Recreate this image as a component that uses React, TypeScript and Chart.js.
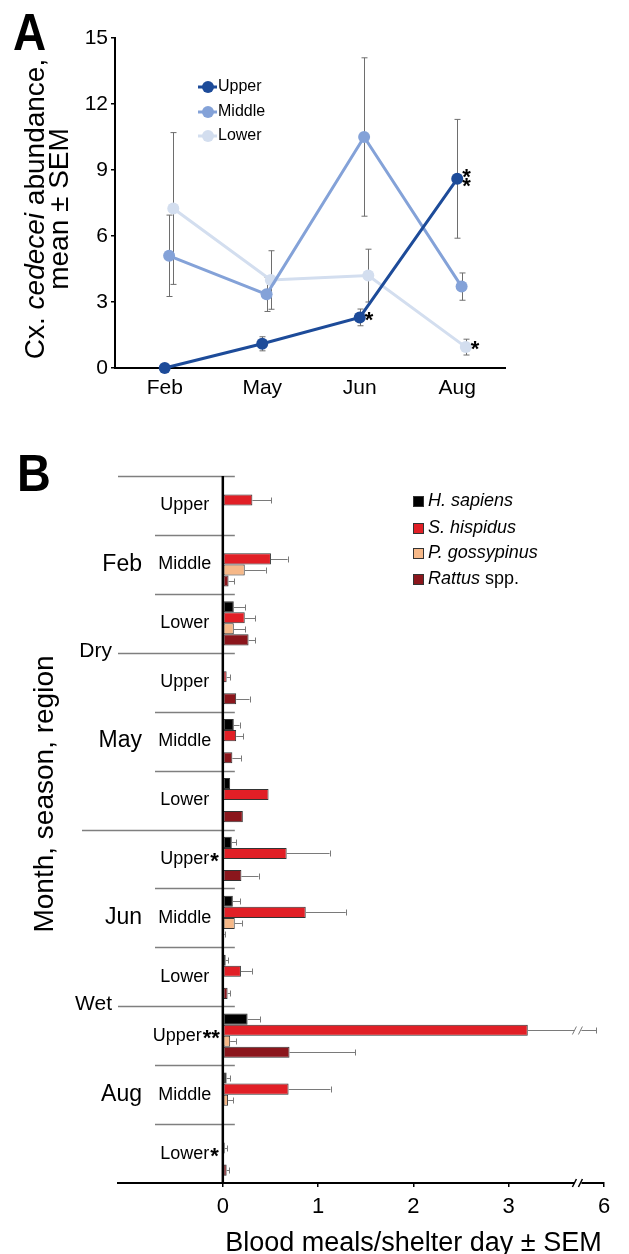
import React, { useEffect, useRef } from "react";
import { Chart, registerables } from "chart.js";

Chart.register(...registerables);

const FONT = '"Liberation Sans", Arial, Helvetica, sans-serif';

// ---------- Panel A data ----------
const monthsA = ["Feb", "May", "Jun", "Aug"];
const regionsA = ["Upper", "Middle", "Lower"];
const upperMean = [0, 1.1, 2.3, 8.6];
const upperSem = [0, 0.32, 0.38, 2.7];
const middleMean = [5.1, 3.35, 10.5, 3.7];
const middleSem = [1.85, 0.78, 3.6, 0.62];
const lowerMean = [7.25, 4.0, 4.2, 0.95];
const lowerSem = [3.45, 1.33, 1.2, 0.36];
const upperStars = ["", "", "*", "**"];
const middleStars = ["", "", "", ""];
const lowerStars = ["", "", "", "*"];
const yTicksA = [0, 3, 6, 9, 12, 15];

// ---------- Panel B data ----------
const monthsB = ["Feb", "May", "Jun", "Aug"];
const regionsB = ["Upper", "Middle", "Lower"];
const seasonsB = ["Dry", "Wet"];
const groupStarsB = ["", "", "", "", "", "", "*", "", "", "**", "", "*"];
const hostNames = ["H. sapiens", "S. hispidus", "P. gossypinus", "Rattus spp."];
const hSapiens = [0, 0, 0.115, 0, 0.115, 0.077, 0.094, 0.105, 0.03, 0.26, 0.04, 0];
const hSapiensSem = [0, 0, 0.12, 0, 0.06, 0, 0.045, 0.08, 0.025, 0.13, 0.035, 0];
const sHispidus = [0.31, 0.505, 0.23, 0.04, 0.14, 0.48, 0.67, 0.87, 0.19, 3.2, 0.69, 0.02];
const sHispidusSem = [0.2, 0.175, 0.11, 0.035, 0.075, 0, 0.45, 0.42, 0.115, 2.72, 0.44, 0.025];
const pGossypinus = [0, 0.23, 0.115, 0, 0, 0, 0, 0.125, 0, 0.077, 0.055, 0];
const pGossypinusSem = [0, 0.22, 0.12, 0, 0, 0, 0, 0.075, 0, 0.06, 0.055, 0];
const rattus = [0, 0.06, 0.27, 0.14, 0.1, 0.21, 0.195, 0.015, 0.05, 0.7, 0, 0.04];
const rattusSem = [0, 0.06, 0.07, 0.14, 0.09, 0, 0.18, 0.012, 0.025, 0.69, 0, 0.03];
const xTicksB = [0, 1, 2, 3, 6];
const axisBreak = [3.7, 5.7];

// ---------- helpers ----------
const brk = (v: number) =>
  v <= axisBreak[0] ? v : v >= axisBreak[1] ? v - (axisBreak[1] - axisBreak[0]) : axisBreak[0];

type Seg = { t: string; i?: boolean };
function drawRich(ctx: CanvasRenderingContext2D, segs: Seg[], size: number, cx: number, y: number) {
  const fonts = segs.map((s) => `${s.i ? "italic " : ""}${size}px ${FONT}`);
  const widths = segs.map((s, k) => {
    ctx.font = fonts[k];
    return ctx.measureText(s.t).width;
  });
  const total = widths.reduce((a, b) => a + b, 0);
  let x = cx - total / 2;
  ctx.textAlign = "left";
  ctx.textBaseline = "alphabetic";
  segs.forEach((s, k) => {
    ctx.font = fonts[k];
    ctx.fillText(s.t, x, y);
    x += widths[k];
  });
}
function drawStar(ctx: CanvasRenderingContext2D, text: string, x: number, yc: number, size: number) {
  ctx.font = `bold ${size}px ${FONT}`;
  ctx.textAlign = "left";
  ctx.textBaseline = "alphabetic";
  ctx.fillStyle = "#000";
  ctx.fillText(text, x, yc + 0.42 * size);
}
function drawLetter(ctx: CanvasRenderingContext2D, t: string, x: number, y: number, size: number) {
  ctx.save();
  ctx.translate(x, y);
  ctx.scale(0.9, 1);
  ctx.font = `bold ${size}px ${FONT}`;
  ctx.fillStyle = "#000";
  ctx.textAlign = "left";
  ctx.textBaseline = "alphabetic";
  ctx.fillText(t, 0, 0);
  ctx.restore();
}

// ---------- Panel A config ----------
const meansA = [upperMean, middleMean, lowerMean];
const semsA = [upperSem, middleSem, lowerSem];
const starsA = [upperStars, middleStars, lowerStars];
const colorsA = ["#1d4b99", "#84a2d8", "#d3deef"];
const dodgeA = [0, 0.045, 0.088];

const pluginA = {
  id: "panelA",
  beforeDatasetsDraw(chart: any) {
    const { ctx, scales } = chart;
    const { x, y } = scales;
    ctx.save();
    ctx.strokeStyle = "#6e6e6e";
    ctx.lineWidth = 1;
    meansA.forEach((means, s) =>
      means.forEach((m, i) => {
        const e = semsA[s][i];
        if (!e) return;
        const px = Math.round(x.getPixelForValue(i + dodgeA[s])) + 0.5;
        const y1 = y.getPixelForValue(m - e);
        const y2 = y.getPixelForValue(m + e);
        ctx.beginPath();
        ctx.moveTo(px, y1);
        ctx.lineTo(px, y2);
        ctx.moveTo(px - 3, y1);
        ctx.lineTo(px + 3, y1);
        ctx.moveTo(px - 3, y2);
        ctx.lineTo(px + 3, y2);
        ctx.stroke();
      })
    );
    ctx.restore();
  },
  afterDraw(chart: any) {
    const { ctx, scales, chartArea } = chart;
    const { x, y } = scales;
    ctx.save();
    // significance stars
    meansA.forEach((means, s) =>
      means.forEach((m, i) => {
        const st = starsA[s][i];
        if (!st) return;
        const px = x.getPixelForValue(i + dodgeA[s]) + 5;
        const py = y.getPixelForValue(m);
        if (st.length === 1) drawStar(ctx, "*", px, py, 22);
        else st.split("").forEach((c, k) => drawStar(ctx, c, px, py + (k - (st.length - 1) / 2) * 9, 22));
      })
    );
    // legend
    const legX = 198;
    const legY = [87, 112, 136];
    regionsA.forEach((r, s) => {
      ctx.strokeStyle = colorsA[s];
      ctx.lineWidth = 3;
      ctx.beginPath();
      ctx.moveTo(legX, legY[s]);
      ctx.lineTo(legX + 19, legY[s]);
      ctx.stroke();
      ctx.fillStyle = colorsA[s];
      ctx.beginPath();
      ctx.arc(legX + 10, legY[s], 6, 0, Math.PI * 2);
      ctx.fill();
      ctx.fillStyle = "#000";
      ctx.font = `16px ${FONT}`;
      ctx.textAlign = "left";
      ctx.textBaseline = "middle";
      ctx.fillText(r, legX + 20, legY[s]);
    });
    // y title
    ctx.fillStyle = "#000";
    const cy = (chartArea.top + chartArea.bottom) / 2 + 6;
    ctx.save();
    ctx.translate(44, cy);
    ctx.rotate(-Math.PI / 2);
    drawRich(ctx, [{ t: "Cx. " }, { t: "cedecei", i: true }, { t: " abundance," }], 28, 0, 0);
    ctx.restore();
    ctx.save();
    ctx.translate(68, cy);
    ctx.rotate(-Math.PI / 2);
    drawRich(ctx, [{ t: "mean \u00b1 SEM" }], 28, 0, 0);
    ctx.restore();
    drawLetter(ctx, "A", 13, 50, 51);
    ctx.restore();
  },
};

// ---------- Panel B config ----------
const hostSeries = [hSapiens, sHispidus, pGossypinus, rattus];
const hostSems = [hSapiensSem, sHispidusSem, pGossypinusSem, rattusSem];
const hostColors = ["#000000", "#e11f26", "#f6b888", "#8b161c"];
const groupKeysB = monthsB.flatMap((m) => regionsB.map((r) => `${m} ${r}`));

function breakMarks(ctx: CanvasRenderingContext2D, xb: number, yc: number, color: string, lw: number) {
  ctx.fillStyle = "#fff";
  ctx.fillRect(xb - 1, yc - 2, 7, 4);
  ctx.strokeStyle = color;
  ctx.lineWidth = lw;
  ctx.beginPath();
  ctx.moveTo(xb - 3, yc + 4);
  ctx.lineTo(xb + 1, yc - 4);
  ctx.moveTo(xb + 3, yc + 4);
  ctx.lineTo(xb + 7, yc - 4);
  ctx.stroke();
}

const pluginB = {
  id: "panelB",
  afterDraw(chart: any) {
    const { ctx, scales, chartArea } = chart;
    const { x, y } = scales;
    const x0 = x.getPixelForValue(0);
    const xb = x.getPixelForValue(axisBreak[0]);
    const step = y.getPixelForValue(1) - y.getPixelForValue(0);
    ctx.save();
    // error bars
    hostSeries.forEach((vals, k) => {
      const meta = chart.getDatasetMeta(k);
      vals.forEach((v, i) => {
        const e = hostSems[k][i];
        if (!e) return;
        const el = meta.data[i];
        const yc = Math.round(el.y) + 0.5;
        const xa = x.getPixelForValue(brk(v));
        const xe = x.getPixelForValue(brk(v + e));
        ctx.strokeStyle = "#7a7a7a";
        ctx.lineWidth = 1;
        ctx.beginPath();
        ctx.moveTo(xa, yc);
        ctx.lineTo(xe, yc);
        ctx.moveTo(Math.round(xe) + 0.5, yc - 3);
        ctx.lineTo(Math.round(xe) + 0.5, yc + 3);
        ctx.stroke();
        if (v + e > axisBreak[0] && v < axisBreak[0]) breakMarks(ctx, xb, yc, "#7a7a7a", 1);
      });
    });
    // separators
    const nGroups = groupKeysB.length;
    const perMonth = regionsB.length;
    const perSeason = perMonth * (monthsB.length / seasonsB.length);
    ctx.strokeStyle = "#7f7f7f";
    ctx.lineWidth = 1.5;
    for (let b = 0; b < nGroups; b++) {
      const yb = Math.round(y.getPixelForValue(b) - step / 2) + 0.5;
      let xs = chartArea.left + 37;
      if (b % perMonth === 0) xs = chartArea.left;
      if (b > 0 && b % perSeason === 0) xs = chartArea.left - 36;
      ctx.beginPath();
      ctx.moveTo(xs, yb);
      ctx.lineTo(x0 + 12, yb);
      ctx.stroke();
    }
    // zero axis
    ctx.strokeStyle = "#000";
    ctx.lineWidth = 2.5;
    ctx.beginPath();
    ctx.moveTo(x0, chartArea.top);
    ctx.lineTo(x0, chartArea.bottom);
    ctx.stroke();
    // x axis break
    breakMarks(ctx, xb, chartArea.bottom, "#000", 1.5);
    // region labels
    ctx.fillStyle = "#000";
    groupKeysB.forEach((_, g) => {
      const region = regionsB[g % perMonth];
      const stars = groupStarsB[g];
      const yc = y.getPixelForValue(g);
      ctx.font = `18px ${FONT}`;
      const w = ctx.measureText(region).width;
      ctx.font = `bold 22px ${FONT}`;
      const sw = stars ? ctx.measureText(stars).width : 0;
      let sx = x0 - 38 - w / 2;
      if (sx + w + 1 + sw > x0 - 3) sx = x0 - 3 - sw - 1 - w;
      ctx.font = `18px ${FONT}`;
      ctx.textAlign = "left";
      ctx.textBaseline = "middle";
      ctx.fillText(region, sx, yc);
      if (stars) drawStar(ctx, stars, sx + w + 1, yc, 22);
      if (g % perMonth === 1) {
        ctx.font = `23px ${FONT}`;
        ctx.textAlign = "right";
        ctx.textBaseline = "middle";
        ctx.fillText(monthsB[Math.floor(g / perMonth)], chartArea.left + 24, yc);
      }
    });
    // season labels
    seasonsB.forEach((s, k) => {
      const b = k * perSeason + perMonth;
      const yb = y.getPixelForValue(b) - step / 2;
      ctx.font = `21px ${FONT}`;
      ctx.textAlign = "right";
      ctx.textBaseline = "middle";
      ctx.fillText(s, chartArea.left - 6, yb - 2);
    });
    // legend
    const lx = 413;
    const ly = [81, 108, 133, 159];
    hostNames.forEach((n, k) => {
      ctx.fillStyle = "#333";
      ctx.fillRect(lx, ly[k] - 5, 11, 11);
      ctx.fillStyle = hostColors[k];
      ctx.fillRect(lx + 1, ly[k] - 4, 9, 9);
      ctx.fillStyle = "#000";
      ctx.textBaseline = "middle";
      ctx.textAlign = "left";
      const parts = n.split(" ");
      if (parts[1] === "spp.") {
        ctx.font = `italic 18px ${FONT}`;
        ctx.fillText(parts[0], lx + 15, ly[k]);
        const w = ctx.measureText(parts[0] + " ").width;
        ctx.font = `18px ${FONT}`;
        ctx.fillText(parts[1], lx + 15 + w, ly[k]);
      } else {
        ctx.font = `italic 18px ${FONT}`;
        ctx.fillText(n, lx + 15, ly[k]);
      }
    });
    // titles
    ctx.save();
    ctx.translate(53, 374);
    ctx.rotate(-Math.PI / 2);
    ctx.fillStyle = "#000";
    drawRich(ctx, [{ t: "Month, season, region" }], 28, 0, 0);
    ctx.restore();
    ctx.fillStyle = "#000";
    drawRich(ctx, [{ t: "Blood meals/shelter day \u00b1 SEM" }], 27, (x0 + chartArea.right) / 2, 831);
    drawLetter(ctx, "B", 17, 71, 52);
    ctx.restore();
  },
};

export default function App() {
  const refA = useRef<HTMLCanvasElement>(null);
  const refB = useRef<HTMLCanvasElement>(null);

  useEffect(() => {
    Chart.defaults.font.family = FONT;
    Chart.defaults.color = "#000";

    const chartA = new Chart(refA.current as HTMLCanvasElement, {
      type: "line",
      data: {
        datasets: meansA.map((means, s) => ({
          label: regionsA[s],
          data: means.map((m, i) => ({ x: i + dodgeA[s], y: m })),
          borderColor: colorsA[s],
          backgroundColor: colorsA[s],
          pointBackgroundColor: colorsA[s],
          pointBorderWidth: 0,
          pointRadius: 6,
          borderWidth: 3,
          tension: 0,
          clip: false,
        })),
      },
      options: {
        responsive: false,
        animation: false,
        layout: { padding: { left: 0, right: 124, top: 38, bottom: 0 } },
        plugins: { legend: { display: false }, tooltip: { enabled: false } },
        scales: {
          x: {
            type: "linear",
            min: -0.51,
            max: 3.49,
            afterFit: (s: any) => {
              s.height = 52;
            },
            afterBuildTicks: (s: any) => {
              s.ticks = monthsA.map((_, i) => ({ value: i }));
            },
            ticks: {
              callback: (v: any) => monthsA[v] ?? "",
              color: "#000",
              font: { size: 21 },
              padding: 8,
              maxRotation: 0,
              autoSkip: false,
            },
            grid: { display: false, drawTicks: false },
            border: { display: true, color: "#000", width: 2 },
          },
          y: {
            min: 0,
            max: 15,
            afterFit: (s: any) => {
              s.width = 115;
            },
            afterBuildTicks: (s: any) => {
              s.ticks = yTicksA.map((v) => ({ value: v }));
            },
            ticks: { color: "#000", font: { size: 21 }, padding: 3 },
            grid: { drawOnChartArea: false, drawTicks: true, tickLength: 4, color: "#000", lineWidth: 1.5 },
            border: { display: true, color: "#000", width: 2 },
          },
        },
      } as any,
      plugins: [pluginA],
    });

    const chartB = new Chart(refB.current as HTMLCanvasElement, {
      type: "bar",
      data: {
        labels: groupKeysB,
        datasets: hostSeries.map((vals, k) => ({
          label: hostNames[k],
          data: vals.map(brk),
          backgroundColor: hostColors[k],
          borderColor: "#333",
          borderWidth: 1,
          borderSkipped: false,
          categoryPercentage: 0.75,
          barPercentage: 1,
        })),
      },
      options: {
        indexAxis: "y",
        responsive: false,
        animation: false,
        layout: { padding: { left: 118, right: 25, top: 56, bottom: 0 } },
        plugins: { legend: { display: false }, tooltip: { enabled: false } },
        scales: {
          y: { type: "category", display: false, offset: true, grid: { display: false } },
          x: {
            type: "linear",
            min: -1.1,
            max: brk(xTicksB[xTicksB.length - 1]),
            afterFit: (s: any) => {
              s.height = 71;
            },
            afterBuildTicks: (s: any) => {
              s.ticks = xTicksB.map((v) => ({ value: brk(v) }));
            },
            ticks: {
              callback: (_v: any, idx: number) => String(xTicksB[idx]),
              color: "#000",
              font: { size: 22 },
              padding: 7,
              maxRotation: 0,
              autoSkip: false,
            },
            grid: { drawOnChartArea: false, drawTicks: true, tickLength: 4, color: "#000", lineWidth: 1.5 },
            border: { display: true, color: "#000", width: 2 },
          },
        },
      } as any,
      plugins: [pluginB],
    });

    return () => {
      chartA.destroy();
      chartB.destroy();
    };
  }, []);

  return (
    <div style={{ position: "absolute", left: 0, top: 0, width: 629, height: 1254, background: "#fff" }}>
      <canvas
        ref={refA}
        width={629}
        height={420}
        style={{ position: "absolute", left: 0, top: 0, width: 629, height: 420 }}
      />
      <canvas
        ref={refB}
        width={629}
        height={834}
        style={{ position: "absolute", left: 0, top: 420, width: 629, height: 834 }}
      />
    </div>
  );
}
